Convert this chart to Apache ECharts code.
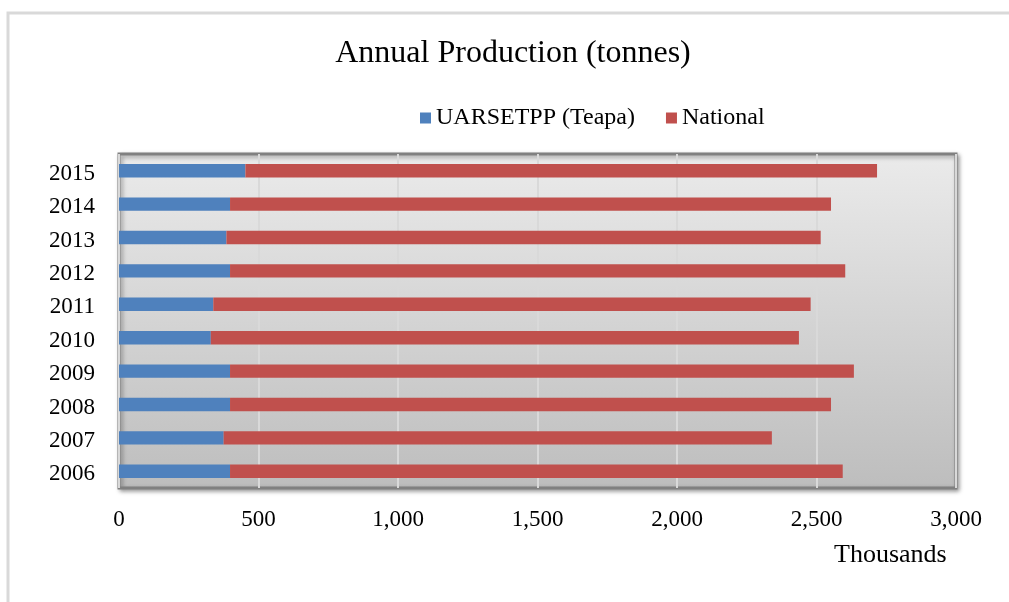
<!DOCTYPE html>
<html>
<head>
<meta charset="utf-8">
<script src="https://cdn.jsdelivr.net/npm/echarts@6/dist/echarts.min.js"></script>
<style>
  html, body { margin: 0; padding: 0; background: #ffffff; }
  #chart { width: 1009px; height: 602px; }
</style>
</head>
<body>
<div id="chart"></div>
<script>
// Annual banana production, thousands of tonnes
const years = ['2006', '2007', '2008', '2009', '2010', '2011', '2012', '2013', '2014', '2015'];
const teapa = [398, 375, 398, 398, 329, 338, 398, 385, 398, 453];
const national = [2196, 1965, 2154, 2236, 2108, 2141, 2205, 2130, 2154, 2264];
const xTicks = { min: 0, max: 3000, step: 500 };

const serif = "'Liberation Serif', 'Times New Roman', serif";

const chart = echarts.init(document.getElementById('chart'), null, { renderer: 'canvas' });

chart.setOption({
  backgroundColor: '#ffffff',
  animation: false,
  title: [
    {
      text: 'Annual Production (tonnes)',
      left: 508,
      top: 33,
      textAlign: 'center',
      textStyle: { fontFamily: serif, fontSize: 32, fontWeight: 'normal', color: '#000000' }
    },
    {
      text: 'Thousands',
      left: 829,
      top: 537,
      textStyle: { fontFamily: serif, fontSize: 26, fontWeight: 'normal', color: '#000000' }
    }
  ],
  graphic: [
    {
      type: 'rect',
      silent: true,
      shape: { x: 8, y: 13, width: 1200, height: 800 },
      style: { fill: 'none', stroke: '#d9d9d9', lineWidth: 3 }
    }
  ],
  legend: {
    left: 420,
    top: 106,
    padding: 0,
    icon: 'rect',
    itemWidth: 11,
    itemHeight: 11,
    itemGap: 31,
    textStyle: { fontFamily: serif, fontSize: 24, color: '#000000' },
    data: ['UARSETPP (Teapa)', 'National']
  },
  grid: {
    left: 119,
    right: 53,
    top: 154,
    bottom: 114,
    show: true,
    borderColor: '#808080',
    borderWidth: 3,
    backgroundColor: new echarts.graphic.LinearGradient(0, 0, 0, 1, [
      { offset: 0, color: '#ebebeb' },
      { offset: 1, color: '#bdbdbd' }
    ]),
    shadowColor: 'rgba(0,0,0,0.35)',
    shadowBlur: 4,
    shadowOffsetX: 2,
    shadowOffsetY: 2
  },
  xAxis: {
    type: 'value',
    min: xTicks.min,
    max: xTicks.max,
    interval: xTicks.step,
    axisLine: { show: false },
    axisTick: { show: false },
    splitLine: { show: true, lineStyle: { color: '#d9d9d9', width: 2 } },
    axisLabel: {
      margin: 20,
      fontFamily: serif,
      fontSize: 23,
      color: '#000000',
      formatter: v => v.toLocaleString('en-US')
    }
  },
  yAxis: {
    type: 'category',
    data: years,
    axisLine: { show: false },
    axisTick: { show: false },
    splitLine: { show: false },
    axisLabel: {
      margin: 24,
      fontFamily: serif,
      fontSize: 23,
      color: '#000000',
      formatter: v => '{y|' + v + '}',
      rich: { y: { fontFamily: serif, fontSize: 23, color: '#000000', padding: [6, 0, 0, 0] } }
    }
  },
  series: [
    {
      name: 'UARSETPP (Teapa)',
      type: 'bar',
      stack: 'total',
      data: teapa,
      barCategoryGap: '60%',
      itemStyle: { color: '#4f81bd' }
    },
    {
      name: 'National',
      type: 'bar',
      stack: 'total',
      data: national,
      barCategoryGap: '60%',
      itemStyle: { color: '#c0504d' }
    }
  ]
});
</script>
</body>
</html>
